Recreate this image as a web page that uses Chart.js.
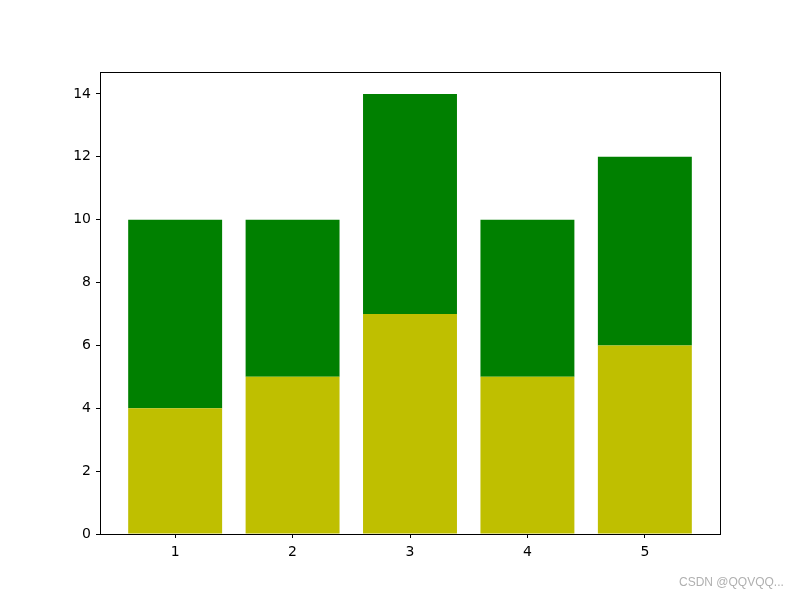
<!DOCTYPE html>
<html>
<head>
<meta charset="utf-8">
<script src="https://cdn.jsdelivr.net/npm/chart.js@4"></script>
<style>
  html, body { margin: 0; padding: 0; background: #fff; }
  #wrap { position: relative; width: 800px; height: 600px; }
  #wm { position: absolute; left: 679px; top: 575px; font-family: "Liberation Sans", Arial, sans-serif; font-size: 12px; color: #b0b0b0; white-space: nowrap; }
</style>
</head>
<body>
<div id="wrap">
  <canvas id="c" width="800" height="600"></canvas>
  <div id="wm">CSDN @QQVQQ...</div>
</div>
<script>
const categories = [1, 2, 3, 4, 5];
const bottomValues = [4, 5, 7, 5, 6];
const topValues = [6, 5, 7, 5, 6];
const yTicks = [0, 2, 4, 6, 8, 10, 12, 14];

const frame = {
  id: 'frame',
  afterDatasetsDraw(chart) {
    const a = chart.chartArea, ctx = chart.ctx;
    ctx.save();
    ctx.strokeStyle = '#000';
    ctx.lineWidth = 1;
    ctx.strokeRect(Math.round(a.left) + 0.5, Math.round(a.top) + 0.5, Math.round(a.right - a.left), Math.round(a.bottom - a.top));
    ctx.restore();
  }
};

const font = { family: '"DejaVu Sans", sans-serif', size: 14 };

new Chart(document.getElementById('c'), {
  type: 'bar',
  data: {
    datasets: [
      { data: categories.map((c, i) => ({ x: c, y: bottomValues[i] })), backgroundColor: '#bfbf00', borderWidth: 0, barPercentage: 0.8, categoryPercentage: 1 },
      { data: categories.map((c, i) => ({ x: c, y: topValues[i] })), backgroundColor: '#008000', borderWidth: 0, barPercentage: 0.8, categoryPercentage: 1 }
    ]
  },
  options: {
    responsive: false,
    animation: false,
    layout: { padding: { top: 72, right: 80, left: 0, bottom: 0 } },
    plugins: { legend: { display: false }, tooltip: { enabled: false } },
    scales: {
      x: {
        type: 'linear',
        stacked: true,
        min: 0.36, max: 5.64,
        offset: false,
        afterBuildTicks: s => { s.ticks = categories.map(v => ({ value: v })); },
        afterFit: s => { s.height = 66; },
        grid: { offset: false, drawOnChartArea: false, drawTicks: true, tickLength: 4, tickColor: '#000', color: '#000' },
        border: { display: false },
        ticks: { color: '#000', font: font, padding: 6, maxRotation: 0, callback: v => String(v) }
      },
      y: {
        type: 'linear',
        stacked: true,
        min: 0, max: 14.7,
        afterBuildTicks: s => { s.ticks = yTicks.map(v => ({ value: v })); },
        afterFit: s => { s.width = 100; },
        grid: { offset: false, drawOnChartArea: false, drawTicks: true, tickLength: 4, tickColor: '#000', color: '#000' },
        border: { display: false },
        ticks: { color: '#000', font: font, padding: 5, callback: v => String(v) }
      }
    }
  },
  plugins: [frame]
});
</script>
</body>
</html>
